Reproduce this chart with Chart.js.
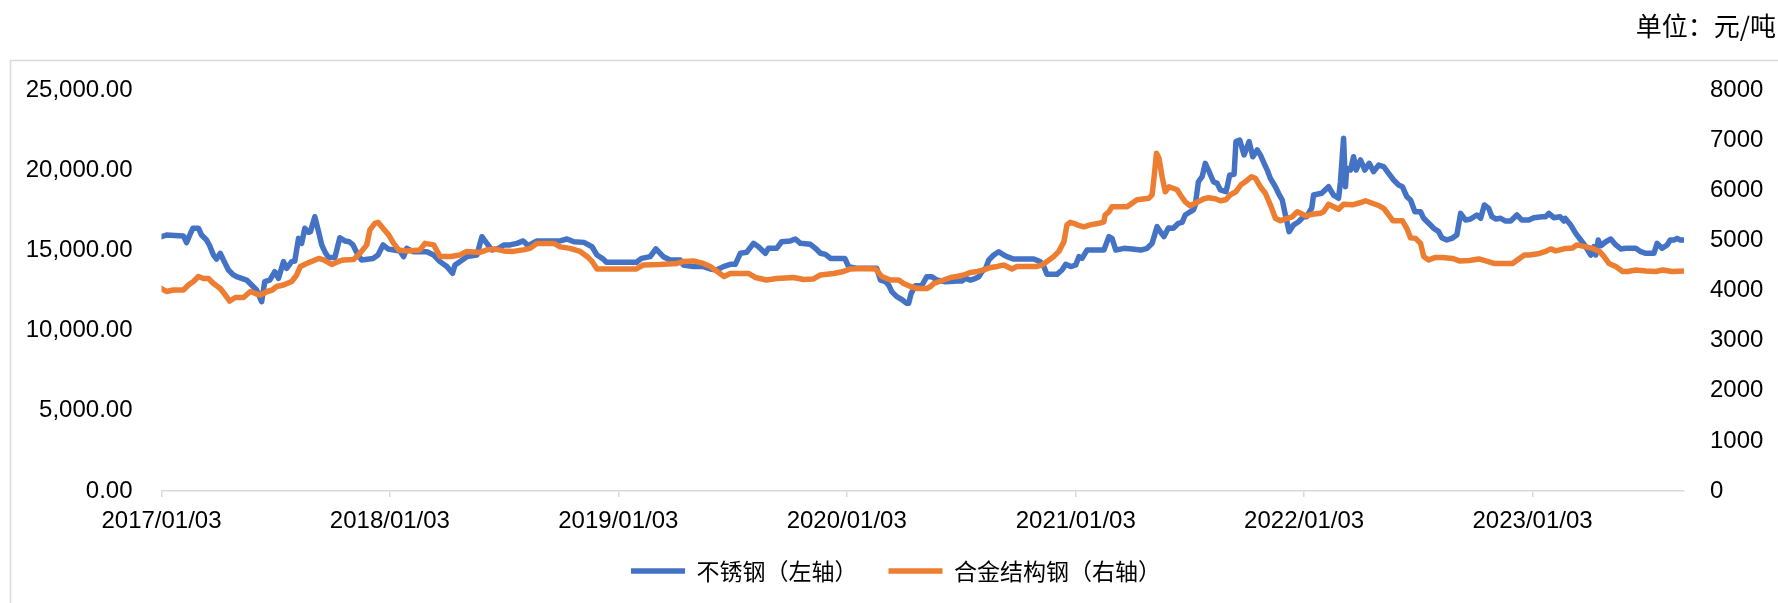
<!DOCTYPE html>
<html>
<head>
<meta charset="utf-8">
<style>
    html, body { margin: 0; padding: 0; background: #fff; }
    #wrap { width: 1778px; height: 603px; }
</style>
</head>
<body>
<div id="wrap"><canvas id="chart" width="1778" height="603"></canvas></div>
<script src="https://cdn.jsdelivr.net/npm/chart.js@4.4.0/dist/chart.umd.min.js"></script>
<script>
// tick labels shown under the date axis
const xTickLabels = ["2017/01/03", "2018/01/03", "2019/01/03", "2020/01/03", "2021/01/03", "2022/01/03", "2023/01/03"];
const seriesNames = ["不锈钢（左轴）", "合金结构钢（右轴）"];
const unitText = "单位：元/吨";

// 不锈钢 (left axis)
const blueDates = [
    "2017-01-03", "2017-01-11", "2017-02-07", "2017-02-12", "2017-02-16", "2017-02-22", "2017-03-03", "2017-03-08",
    "2017-03-16", "2017-03-21", "2017-03-27", "2017-04-01", "2017-04-07", "2017-04-12", "2017-04-20", "2017-04-28",
    "2017-05-03", "2017-05-11", "2017-05-19", "2017-05-27", "2017-06-04", "2017-06-12", "2017-06-17", "2017-06-25",
    "2017-07-03", "2017-07-09", "2017-07-17", "2017-07-22", "2017-07-30", "2017-08-04", "2017-08-10", "2017-08-15",
    "2017-08-20", "2017-08-26", "2017-08-29", "2017-09-05", "2017-09-11", "2017-09-16", "2017-09-21", "2017-09-27",
    "2017-10-07", "2017-10-15", "2017-10-23", "2017-10-30", "2017-11-05", "2017-11-13", "2017-11-19", "2017-12-07",
    "2017-12-15", "2017-12-23", "2017-12-31", "2018-01-19", "2018-01-25", "2018-01-30", "2018-02-09", "2018-03-03",
    "2018-03-14", "2018-03-24", "2018-04-04", "2018-04-13", "2018-04-17", "2018-04-25", "2018-05-06", "2018-05-22",
    "2018-05-30", "2018-06-07", "2018-06-15", "2018-06-26", "2018-07-04", "2018-07-14", "2018-07-25", "2018-08-04",
    "2018-08-12", "2018-08-26", "2018-10-02", "2018-10-13", "2018-10-24", "2018-11-09", "2018-11-22", "2018-11-30",
    "2018-12-10", "2018-12-15", "2019-02-01", "2019-02-09", "2019-02-23", "2019-03-04", "2019-03-16", "2019-03-27",
    "2019-04-12", "2019-04-17", "2019-05-03", "2019-05-19", "2019-05-30", "2019-06-09", "2019-06-20", "2019-07-01",
    "2019-07-09", "2019-07-17", "2019-07-27", "2019-08-07", "2019-08-15", "2019-08-26", "2019-08-31", "2019-09-13",
    "2019-09-21", "2019-10-05", "2019-10-13", "2019-10-21", "2019-11-06", "2019-11-14", "2019-11-22", "2019-11-30",
    "2019-12-08", "2019-12-31", "2020-01-06", "2020-01-20", "2020-02-20", "2020-02-26", "2020-03-05", "2020-03-10",
    "2020-03-15", "2020-03-23", "2020-04-01", "2020-04-08", "2020-04-11", "2020-04-15", "2020-04-22", "2020-05-02",
    "2020-05-10", "2020-05-18", "2020-05-26", "2020-06-09", "2020-06-27", "2020-07-05", "2020-07-11", "2020-07-19",
    "2020-07-27", "2020-08-01", "2020-08-06", "2020-08-12", "2020-08-17", "2020-08-25", "2020-09-02", "2020-09-10",
    "2020-09-15", "2020-09-26", "2020-10-28", "2020-11-07", "2020-11-12", "2020-11-18", "2020-12-04", "2020-12-12",
    "2020-12-18", "2020-12-26", "2021-01-03", "2021-01-08", "2021-01-13", "2021-01-21", "2021-02-17", "2021-02-25",
    "2021-03-02", "2021-03-08", "2021-03-21", "2021-04-03", "2021-04-17", "2021-04-27", "2021-05-05", "2021-05-13",
    "2021-05-18", "2021-05-24", "2021-05-31", "2021-06-08", "2021-06-16", "2021-06-22", "2021-06-27", "2021-07-05",
    "2021-07-10", "2021-07-13", "2021-07-18", "2021-07-24", "2021-07-29", "2021-08-03", "2021-08-11", "2021-08-17",
    "2021-08-22", "2021-08-31", "2021-09-02", "2021-09-06", "2021-09-13", "2021-09-16", "2021-09-22", "2021-09-29",
    "2021-10-07", "2021-10-13", "2021-10-20", "2021-10-25", "2021-10-31", "2021-11-05", "2021-11-10", "2021-11-18",
    "2021-11-23", "2021-11-29", "2021-12-04", "2021-12-10", "2021-12-17", "2021-12-25", "2022-01-02", "2022-01-07",
    "2022-01-13", "2022-01-15", "2022-01-18", "2022-01-31", "2022-02-11", "2022-02-19", "2022-02-27", "2022-03-02",
    "2022-03-07", "2022-03-10", "2022-03-12", "2022-03-18", "2022-03-23", "2022-03-27", "2022-04-03", "2022-04-10",
    "2022-04-17", "2022-04-24", "2022-05-02", "2022-05-10", "2022-05-18", "2022-05-26", "2022-06-03", "2022-06-09",
    "2022-06-16", "2022-06-22", "2022-06-29", "2022-07-08", "2022-07-13", "2022-07-21", "2022-07-29", "2022-08-06",
    "2022-08-11", "2022-08-19", "2022-08-27", "2022-09-04", "2022-09-10", "2022-09-18", "2022-09-26", "2022-10-06",
    "2022-10-12", "2022-10-18", "2022-10-25", "2022-10-30", "2022-11-05", "2022-11-13", "2022-11-21", "2022-11-29",
    "2022-12-09", "2022-12-17", "2022-12-28", "2023-01-05", "2023-01-18", "2023-01-24", "2023-01-29", "2023-02-06",
    "2023-02-16", "2023-02-22", "2023-02-24", "2023-03-05", "2023-03-13", "2023-03-21", "2023-03-29", "2023-04-06",
    "2023-04-11", "2023-04-14", "2023-04-18", "2023-04-22", "2023-04-30", "2023-05-08", "2023-05-16", "2023-05-24",
    "2023-06-01", "2023-06-17", "2023-06-25", "2023-07-03", "2023-07-16", "2023-07-21", "2023-07-29", "2023-08-06",
    "2023-08-11", "2023-08-17", "2023-08-22", "2023-08-27", "2023-09-02"
];
const blueValues = [
    15850, 15960, 15900, 15480, 15850, 16380, 16380, 15960,
    15650, 15290, 14710, 14460, 14820, 14400, 13780, 13470,
    13360, 13260, 13150, 12840, 12530, 11800, 13050, 13150,
    13670, 13260, 14300, 13880, 14300, 14340, 15750, 15440,
    16380, 16130, 16170, 17100, 16170, 15340, 14920, 14550,
    14550, 15790, 15590, 15540, 15340, 14710, 14400, 14500,
    14710, 15340, 15090, 14960, 14610, 15130, 14920, 14920,
    14710, 14300, 13990, 13570, 14090, 14300, 14610, 14710,
    15850, 15440, 15020, 15130, 15340, 15340, 15440, 15590,
    15290, 15590, 15590, 15710, 15540, 15500, 15230, 14710,
    14460, 14260, 14260, 14500, 14610, 15100, 14610, 14400,
    14400, 14090, 13990, 13990, 13840, 13780, 13990, 14130,
    14130, 14820, 14880, 15440, 15230, 14820, 15130, 15130,
    15540, 15590, 15710, 15440, 15380, 15130, 14820, 14750,
    14500, 14500, 13990, 13880, 13880, 13150, 13050, 12840,
    12430, 12120, 11910, 11700, 11700, 12320, 12800, 12800,
    13360, 13360, 13150, 13050, 13090, 13090, 13260, 13150,
    13260, 13360, 13670, 13880, 14400, 14710, 14920, 14710,
    14610, 14460, 14460, 14300, 14090, 13510, 13510, 13780,
    14130, 13990, 14090, 14610, 14500, 15020, 15020, 15860,
    15750, 15020, 15130, 15090, 15020, 15130, 15440, 16480,
    16170, 15860, 16400, 16380, 16690, 16750, 17210, 17410,
    17520, 17830, 19280, 19600, 20430, 20010, 19280, 19180,
    18770, 18660, 18970, 19700, 19740, 21780, 21880, 20950,
    21780, 20840, 21260, 20950, 20430, 20010, 19490, 18970,
    18560, 18140, 17210, 16170, 16580, 16790, 17100, 17100,
    17520, 17620, 18450, 18560, 18970, 18450, 18250, 19280,
    21990, 18970, 20120, 20010, 20840, 20010, 20640, 20010,
    20430, 19910, 20320, 20220, 19800, 19390, 19080, 18970,
    18350, 18140, 17410, 17410, 17000, 16690, 16380, 16170,
    15790, 15650, 15750, 15960, 17310, 16890, 16960, 17210,
    17000, 17830, 17620, 17100, 16960, 17000, 16830, 16830,
    17210, 16890, 16890, 17040, 17100, 17100, 17310, 17040,
    17100, 16830, 17000, 16580, 16060, 15650, 15230, 14710,
    15230, 14710, 15650, 15290, 15540, 15710, 15340, 15090,
    15130, 15130, 14920, 14820, 14820, 15440, 15130, 15340,
    15650, 15650, 15750, 15650, 15650
];

// 合金结构钢 (right axis)
const orangeDates = [
    "2017-01-03", "2017-01-11", "2017-01-22", "2017-02-07", "2017-02-15", "2017-02-23", "2017-03-03", "2017-03-11",
    "2017-03-19", "2017-03-27", "2017-04-07", "2017-04-15", "2017-04-22", "2017-05-01", "2017-05-14", "2017-05-25",
    "2017-06-02", "2017-06-10", "2017-06-21", "2017-06-29", "2017-07-06", "2017-07-17", "2017-07-30", "2017-08-07",
    "2017-08-13", "2017-08-23", "2017-08-31", "2017-09-11", "2017-09-19", "2017-10-02", "2017-10-13", "2017-10-21",
    "2017-11-06", "2017-11-16", "2017-11-27", "2017-12-02", "2017-12-10", "2017-12-15", "2017-12-23", "2018-01-01",
    "2018-01-09", "2018-01-17", "2018-01-30", "2018-02-20", "2018-02-28", "2018-03-14", "2018-03-24", "2018-04-10",
    "2018-04-25", "2018-05-06", "2018-05-27", "2018-06-07", "2018-06-18", "2018-07-04", "2018-07-19", "2018-08-04",
    "2018-08-15", "2018-08-26", "2018-09-22", "2018-10-02", "2018-10-18", "2018-11-03", "2018-11-14", "2018-11-22",
    "2018-11-30", "2018-12-15", "2019-02-01", "2019-02-12", "2019-03-10", "2019-04-07", "2019-04-17", "2019-05-03",
    "2019-05-19", "2019-05-30", "2019-06-10", "2019-06-21", "2019-07-01", "2019-07-30", "2019-08-10", "2019-08-28",
    "2019-09-13", "2019-10-10", "2019-10-26", "2019-11-11", "2019-11-22", "2019-12-13", "2019-12-29", "2020-01-09",
    "2020-01-30", "2020-02-18", "2020-02-28", "2020-03-13", "2020-03-26", "2020-04-03", "2020-04-14", "2020-04-25",
    "2020-05-10", "2020-05-16", "2020-05-21", "2020-06-06", "2020-06-17", "2020-06-27", "2020-07-08", "2020-07-19",
    "2020-07-30", "2020-08-09", "2020-08-20", "2020-08-31", "2020-09-10", "2020-09-23", "2020-10-01", "2020-11-02",
    "2020-11-10", "2020-11-18", "2020-11-29", "2020-12-07", "2020-12-15", "2020-12-20", "2020-12-25", "2020-12-31",
    "2021-01-05", "2021-01-16", "2021-01-26", "2021-02-09", "2021-02-17", "2021-02-19", "2021-02-25", "2021-03-02",
    "2021-03-26", "2021-04-03", "2021-04-11", "2021-04-30", "2021-05-05", "2021-05-08", "2021-05-12", "2021-05-16",
    "2021-05-21", "2021-05-26", "2021-06-01", "2021-06-14", "2021-06-19", "2021-06-27", "2021-07-05", "2021-07-16",
    "2021-07-27", "2021-08-03", "2021-08-14", "2021-08-22", "2021-08-31", "2021-09-07", "2021-09-16", "2021-09-24",
    "2021-10-01", "2021-10-11", "2021-10-17", "2021-10-25", "2021-11-02", "2021-11-10", "2021-11-18", "2021-11-26",
    "2021-12-04", "2021-12-15", "2021-12-23", "2021-12-28", "2022-01-05", "2022-01-16", "2022-01-29", "2022-02-03",
    "2022-02-11", "2022-02-19", "2022-02-27", "2022-03-07", "2022-03-21", "2022-04-05", "2022-04-11", "2022-04-22",
    "2022-05-03", "2022-05-10", "2022-05-18", "2022-05-25", "2022-06-09", "2022-06-16", "2022-06-22", "2022-06-30",
    "2022-07-08", "2022-07-13", "2022-07-21", "2022-08-01", "2022-08-12", "2022-08-28", "2022-09-08", "2022-09-24",
    "2022-10-09", "2022-10-23", "2022-11-02", "2022-12-02", "2022-12-13", "2022-12-21", "2022-12-29", "2023-01-14",
    "2023-01-24", "2023-02-01", "2023-02-09", "2023-02-25", "2023-03-08", "2023-03-15", "2023-03-29", "2023-04-09",
    "2023-04-20", "2023-04-27", "2023-05-05", "2023-05-16", "2023-05-27", "2023-06-04", "2023-06-17", "2023-07-03",
    "2023-07-19", "2023-07-30", "2023-08-14", "2023-09-02"
];
const orangeValues = [
    4040, 3980, 4010, 4010, 4110, 4180, 4280, 4240,
    4240, 4140, 4040, 3910, 3790, 3860, 3860, 3980,
    3940, 3910, 3980, 4010, 4080, 4110, 4180, 4310,
    4480, 4540, 4580, 4640, 4610, 4520, 4580, 4610,
    4620, 4740, 4910, 5210, 5340, 5360, 5240, 5110,
    4940, 4810, 4790, 4810, 4940, 4910, 4680, 4680,
    4710, 4780, 4760, 4810, 4830, 4790, 4780, 4810,
    4840, 4940, 4940, 4870, 4840, 4780, 4680, 4580,
    4430, 4430, 4430, 4510, 4520, 4540, 4580, 4590,
    4540, 4480, 4380, 4280, 4340, 4340, 4260, 4210,
    4240, 4260, 4220, 4230, 4310, 4340, 4380, 4430,
    4440, 4430, 4280, 4210, 4210, 4140, 4080, 4040,
    4040, 4080, 4140, 4210, 4260, 4280, 4310, 4360,
    4380, 4410, 4460, 4480, 4510, 4430, 4480, 4480,
    4510, 4580, 4680, 4780, 4970, 5310, 5360, 5340,
    5310, 5270, 5310, 5340, 5370, 5510, 5570, 5670,
    5670, 5740, 5810, 5840, 5910, 6240, 6740, 6640,
    6270, 5970, 6070, 6010, 5910, 5770, 5690, 5760,
    5830, 5850, 5830, 5790, 5810, 5910, 5970, 6110,
    6170, 6270, 6240, 6070, 5940, 5710, 5440, 5390,
    5430, 5470, 5570, 5540, 5490, 5520, 5540, 5570,
    5720, 5670, 5620, 5720, 5710, 5760, 5790, 5740,
    5690, 5640, 5510, 5390, 5390, 5240, 5050, 5040,
    4940, 4680, 4610, 4660, 4660, 4640, 4590, 4600,
    4630, 4580, 4540, 4540, 4640, 4710, 4710, 4740,
    4780, 4830, 4790, 4840, 4850, 4910, 4870, 4840,
    4780, 4680, 4540, 4480, 4380, 4380, 4410, 4390,
    4380, 4410, 4380, 4390
];

const blueColor = "#4472C4";
const orangeColor = "#ED7D31";
const axisGray = "#d9d9d9";

function dayIndex(dateStr) {
    return (Date.parse(dateStr) - Date.parse("2017-01-03")) / 86400000;
}

function toPoints(dates, values) {
    return dates.map((d, i) => ({ x: dayIndex(d), y: values[i] }));
}

const xTickValues = xTickLabels.map((l) => dayIndex(l.replace(/\//g, "-")));
const lastDay = Math.max(dayIndex(blueDates[blueDates.length - 1]), dayIndex(orangeDates[orangeDates.length - 1]));

// white background, outer frame and the unit note
const framePlugin = {
    id: "framePlugin",
    beforeDraw(chart) {
        const ctx = chart.ctx;
        ctx.save();
        ctx.fillStyle = "#fff";
        ctx.fillRect(0, 0, chart.width, chart.height);
        ctx.strokeStyle = axisGray;
        ctx.lineWidth = 1.5;
        ctx.strokeRect(10.5, 60.5, chart.width + 50, chart.height + 50);
        ctx.restore();
    },
    afterDraw(chart) {
        const ctx = chart.ctx;
        ctx.save();
        ctx.font = '26px "Noto Sans CJK SC", sans-serif';
        ctx.fillStyle = "#000";
        ctx.textAlign = "right";
        ctx.textBaseline = "middle";
        ctx.fillText(unitText, 1776, 26);
        ctx.restore();
    }
};

Chart.defaults.font.family = '"Liberation Sans", Arial, sans-serif';
Chart.defaults.color = "#000";

const ctx = document.getElementById("chart").getContext("2d");
const chart = new Chart(ctx, {
    type: "line",
    data: {
        datasets: [
            {
                label: seriesNames[0],
                data: toPoints(blueDates, blueValues),
                yAxisID: "y",
                borderColor: blueColor,
                backgroundColor: blueColor,
                borderWidth: 5.5,
                borderCapStyle: "round",
                borderJoinStyle: "round",
                pointRadius: 0,
                tension: 0,
                order: 2
            },
            {
                label: seriesNames[1],
                data: toPoints(orangeDates, orangeValues),
                yAxisID: "y1",
                borderColor: orangeColor,
                backgroundColor: orangeColor,
                borderWidth: 5.5,
                borderCapStyle: "round",
                borderJoinStyle: "round",
                pointRadius: 0,
                tension: 0,
                order: 1
            }
        ]
    },
    options: {
        responsive: false,
        animation: false,
        devicePixelRatio: 1,
        layout: {
            padding: { top: 90, left: 14, right: 0, bottom: 10.5 }
        },
        plugins: {
            tooltip: { enabled: false },
            legend: {
                position: "bottom",
                labels: {
                    usePointStyle: true,
                    pointStyle: "line",
                    pointStyleWidth: 54,
                    boxHeight: 5,
                    padding: 31,
                    color: "#000",
                    font: { family: '"Noto Sans CJK SC", sans-serif', size: 23 },
                    sort: (a, b) => a.datasetIndex - b.datasetIndex
                }
            }
        },
        scales: {
            x: {
                type: "linear",
                min: 0,
                max: lastDay,
                afterBuildTicks: (scale) => {
                    scale.ticks = xTickValues.map((v) => ({ value: v }));
                },
                afterFit: (scale) => {
                    scale.height = 37.5;
                },
                grid: {
                    display: true,
                    drawOnChartArea: false,
                    drawTicks: true,
                    tickLength: 6,
                    color: axisGray,
                    lineWidth: 1.5
                },
                border: { display: true, color: axisGray, width: 1.5 },
                ticks: {
                    padding: 10,
                    maxRotation: 0,
                    autoSkip: false,
                    font: { size: 24 },
                    callback: (value, index) => xTickLabels[index]
                }
            },
            y: {
                position: "left",
                min: 0,
                max: 25000,
                afterFit: (scale) => {
                    scale.width = 147.5;
                },
                grid: { display: false, drawTicks: false },
                border: { display: false },
                ticks: {
                    stepSize: 5000,
                    padding: 29,
                    font: { size: 24 },
                    callback: (v) => v.toLocaleString("en-US", { minimumFractionDigits: 2, maximumFractionDigits: 2 })
                }
            },
            y1: {
                position: "right",
                min: 0,
                max: 8000,
                afterFit: (scale) => {
                    scale.width = 94;
                },
                grid: { display: false, drawTicks: false },
                border: { display: false },
                ticks: {
                    stepSize: 1000,
                    padding: 26,
                    font: { size: 24 },
                    callback: (v) => String(v)
                }
            }
        }
    },
    plugins: [framePlugin]
});
</script>
</body>
</html>
